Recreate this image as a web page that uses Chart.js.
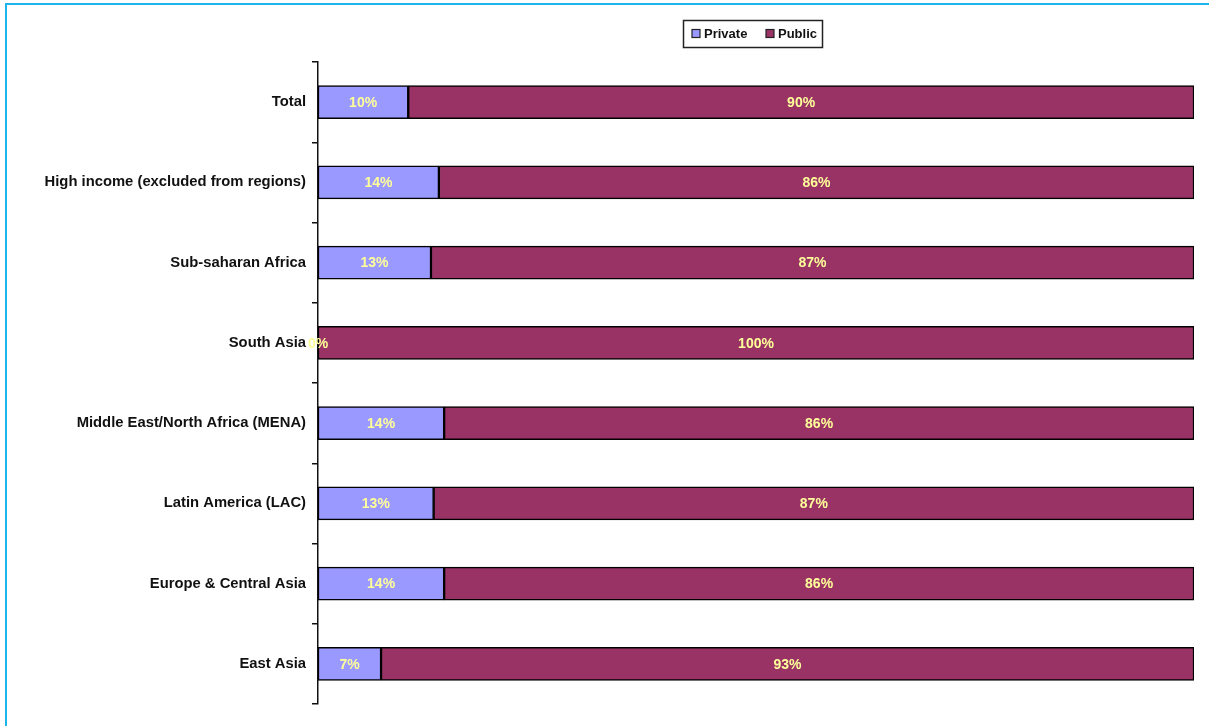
<!DOCTYPE html>
<html><head><meta charset="utf-8">
<script src="https://cdn.jsdelivr.net/npm/chart.js@4.4.1/dist/chart.umd.min.js"></script>
<style>html,body{margin:0;padding:0;background:#fff;}#wrap{width:1209px;height:726px;position:relative;}</style>
</head><body><div id="wrap"><canvas id="c" width="1209" height="726"></canvas></div>
<script>
const categories = ["Total","High income (excluded from regions)","Sub-saharan Africa","South Asia","Middle East/North Africa (MENA)","Latin America (LAC)","Europe & Central Asia","East Asia"];
const privateShare = [10.3, 13.8, 12.9, 0, 14.4, 13.2, 14.4, 7.2];
const publicShare = [89.7, 86.2, 87.1, 100, 85.6, 86.8, 85.6, 92.8];
const seriesNames = ["Private","Public"];
const seriesColors = ["#9999FF","#993366"];

const FONT = "'Liberation Sans', Arial, sans-serif";

const framePlugin = {
  id:'frame',
  beforeDraw(chart){
    const ctx = chart.ctx;
    ctx.save();
    ctx.fillStyle='#fff';
    ctx.fillRect(0,0,chart.width,chart.height);
    ctx.strokeStyle='#1DB6EC';
    ctx.lineWidth=2;
    ctx.beginPath();
    ctx.moveTo(1209,4);ctx.lineTo(6,4);ctx.lineTo(6,726);
    ctx.stroke();
    ctx.restore();
  }
};

const labelPlugin = {
  id:'vals',
  afterDatasetsDraw(chart){
    const ctx = chart.ctx;
    ctx.save();
    ctx.font = "bold 14px " + FONT;
    ctx.fillStyle = '#FFFF99';
    ctx.textAlign='center';
    ctx.textBaseline='middle';
    chart.data.datasets.forEach((ds,di)=>{
      const meta = chart.getDatasetMeta(di);
      meta.data.forEach((bar,i)=>{
        const cx = (bar.x + bar.base)/2;
        ctx.fillText(Math.round(ds.data[i])+'%', cx, bar.y+1);
      });
    });
    ctx.restore();
  }
};

const legendPlugin = {
  id:'boxLegend',
  afterDraw(chart){
    const ctx = chart.ctx;
    ctx.save();
    ctx.strokeStyle='#222';
    ctx.lineWidth=1.5;
    ctx.strokeRect(683.5,20.5,139,27);
    ctx.font = "bold 13px " + FONT;
    ctx.textBaseline='middle';
    const items = [[692,704],[766,778]];
    seriesNames.forEach((n,i)=>{
      ctx.fillStyle = seriesColors[i];
      ctx.fillRect(items[i][0],29.5,8,8);
      ctx.strokeStyle='#222';
      ctx.lineWidth=1.2;
      ctx.strokeRect(items[i][0],29.5,8,8);
      ctx.fillStyle='#111';
      ctx.textAlign='left';
      ctx.fillText(n, items[i][1], 34);
    });
    ctx.restore();
  }
};

new Chart(document.getElementById('c'), {
  type:'bar',
  data:{
    labels: categories,
    datasets: seriesNames.map((n,i)=>({
      label:n,
      data: i===0 ? privateShare : publicShare,
      backgroundColor: seriesColors[i],
      borderColor:'#000',
      borderWidth:1.5,
      borderSkipped:false,
      barThickness:33,
      categoryPercentage:1.0
    }))
  },
  options:{
    indexAxis:'y',
    responsive:false,
    animation:false,
    devicePixelRatio:1,
    layout:{padding:{left:0,right:15,top:62,bottom:22}},
    plugins:{legend:{display:false},tooltip:{enabled:false}},
    scales:{
      x:{stacked:true,min:0,max:100,display:false},
      y:{
        stacked:true,
        afterFit(s){ s.width = 318; },
        border:{display:true,color:'#111',width:1.5},
        grid:{display:true,drawOnChartArea:false,drawTicks:true,tickLength:6,color:'#111',lineWidth:1.5,offset:true},
        ticks:{color:'#111',padding:6,font:{family:FONT,size:14.8,weight:'bold'}}
      }
    }
  },
  plugins:[framePlugin,labelPlugin,legendPlugin]
});
</script></body></html>
